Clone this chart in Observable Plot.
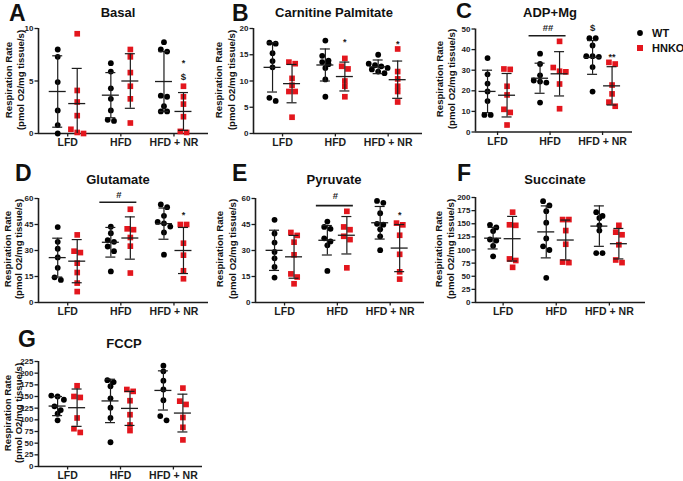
<!DOCTYPE html>
<html><head><meta charset="utf-8">
<script src="https://cdn.jsdelivr.net/npm/d3@7"></script>
<script src="https://cdn.jsdelivr.net/npm/@observablehq/plot@0.6"></script>
<style>
body{margin:0;background:#fff;}
#root{position:relative;width:683px;height:481px;overflow:hidden;background:#fff;font-family:"Liberation Sans",Arial,sans-serif;font-weight:bold;color:#111;}
.lbl{position:absolute;line-height:1;white-space:nowrap;}
.pnl{position:absolute;}
</style></head><body><div id="root"></div>
<script>
// ---------- data ----------
const groups = ["LFD", "HFD", "HFD + NR"];
const genotypes = ["WT", "HNKO"];

// A  Basal
const basalWT = [[8.0,7.3,4.9,2.2,0.8,0.0],[6.7,5.9,4.3,3.3,2.2,1.2,1.3],[8.7,8.0,7.8,3.6,3.5,2.6,2.1,2.1]];
const basalKO = [[9.5,4.1,3.0,1.7,0.4,0.1,0.0],[8.0,7.3,5.8,4.5,3.3,1.0],[4.5,3.5,2.8,1.6,0.2,0.1]];
const basalMeanWT = [4.0,3.65,4.95], basalSdWT = [3.4,2.15,2.85];
const basalMeanKO = [2.85,5.0,2.1],  basalSdKO = [3.35,2.6,1.8];
const basalNotes = [{g:2,s:1,y:6.9,t:"*"},{g:2,s:1,y:5.4,t:"$"}];
const basalLines = [];

// B  Carnitine Palmitate
const cpWT = [[17.1,17.3,15.3,13.8,12.6,6.8,6.2],[17.7,14.8,13.9,13.6,13.2,12.5,10.3,7.0],[15.0,13.3,13.0,12.8,12.5,12.2,11.8,11.5]];
const cpKO = [[13.3,13.6,10.5,9.2,8.0,8.0,3.1],[14.3,12.3,12.8,10.0,9.0,7.0],[16.1,11.8,10.4,9.0,8.0,6.0]];
const cpMeanWT = [12.6,13.05,12.7], cpSdWT = [4.7,3.05,1.3];
const cpMeanKO = [9.5,10.85,10.25], cpSdKO = [3.65,2.75,3.55];
const cpNotes = [{g:1,s:1,y:17.8,t:"*"},{g:2,s:1,y:17.5,t:"*"}];
const cpLines = [];

// C  ADP+Mg
const adpWT = [[35.9,28.0,23.5,19.7,15.0,8.3,8.3],[38.0,33.0,27.5,25.0,24.5,24.0,14.3],[45.5,45.5,42.0,36.8,36.8,36.5,31.5,19.6]];
const adpKO = [[30.4,30.6,22.2,18.0,11.0,9.5,3.4],[44.0,31.3,29.5,29.2,23.3,11.3],[33.8,33.0,22.8,18.5,14.5,12.5]];
const adpMeanWT = [19.7,26.1,36.2], adpSdWT = [10.3,7.3,8.2];
const adpMeanKO = [17.85,28.25,22.4], adpSdKO = [10.55,10.75,9.3];
const adpNotes = [{g:1,s:0,y:50.5,t:"##"},{g:2,s:-1,y:50.5,t:"$"},{g:2,s:1,y:37.6,t:"**"}];
const adpLines = [{g:1,y:46.7}];

// D  Glutamate
const gluWT = [[43.5,35.0,31.0,26.0,20.0,14.5,13.0],[43.7,40.0,36.0,35.0,32.3,29.6,17.9],[56.6,55.0,50.0,46.5,45.7,43.8,40.4,27.6]];
const gluKO = [[39.0,29.6,28.8,22.7,17.3,11.2,6.3],[53.8,42.5,42.0,37.5,32.5,17.0],[45.0,45.0,34.2,27.3,18.3,13.7]];
const gluMeanWT = [25.9,34.75,45.5], gluSdWT = [11.2,8.55,9.0];
const gluMeanKO = [23.85,37.2,30.0], gluSdKO = [12.45,12.2,13.3];
const gluNotes = [{g:1,s:0,y:62.3,t:"#"},{g:2,s:1,y:52,t:"*"}];
const gluLines = [{g:1,y:57.8}];

// E  Pyruvate
const pyrWT = [[47.7,39.8,34.6,29.2,25.5,20.5,14.4],[46.7,43.6,42.5,37.0,35.2,33.0,18.2],[58.6,57.5,51.5,45.4,44.9,42.2,38.2,30.2]];
const pyrKO = [[40.4,38.7,34.8,27.5,16.5,14.7,10.8],[52.6,43.6,42.0,38.2,36.3,20.0],[45.8,44.8,38.8,27.8,17.7,13.5]];
const pyrMeanWT = [30.1,35.9,46.0], pyrSdWT = [11.6,8.5,9.4];
const pyrMeanKO = [26.35,38.8,31.4], pyrSdKO = [12.35,10.8,13.6];
const pyrNotes = [{g:1,s:0,y:61.7,t:"#"},{g:2,s:1,y:52,t:"*"}];
const pyrLines = [{g:1,y:55.9}];

// F  Succinate
const sucWT = [[148,143,136,120,118,108,88],[193,185,174,152,122,107,100,47],[172,165,161,147,137,94,94]];
const sucKO = [[172,148,147,83,80,67],[158,158,137,111,77,76],[147,134,129,110,81,76]];
const sucMeanWT = [122.5,134.5,145.5], sucSdWT = [20.5,49.5,38.5];
const sucMeanKO = [121.5,119,112], sucSdKO = [42.5,38,29];
const sucNotes = [];
const sucLines = [];

// G  FCCP
const fccpWT = [[152,150,143,129,121,113,99],[185,181,172,146,126,104,52],[216,204,184,165,142,108,99]];
const fccpKO = [[173,148,150,104,81,73],[165,161,141,111,89,77],[168,140,133,105,84,57]];
const fccpMeanWT = [129.5,140.5,163], fccpSdWT = [20.5,46.5,42];
const fccpMeanKO = [126,124.5,114.5], fccpSdKO = [40,36.5,40.5];
const fccpNotes = [];
const fccpLines = [];

const yTitle1 = "Respiration Rate";
const yTitle2 = "(pmol O2/mg tissue/s)";

// ---------- layout ----------
const panels = [
  {L:"A", title:"Basal", wt:basalWT, ko:basalKO, mw:basalMeanWT, sw:basalSdWT, mk:basalMeanKO, sk:basalSdKO, notes:basalNotes, lines:basalLines,
   ymax:10, ticks:[0,5,10], sx:0, sy:0, fx:38, fy:28, fw:170, fh:105, xd:[-0.55,2.65], yt:[-29,-17], Lx:9, Ly:21, Ls:23, tx:118, ty:17},
  {L:"B", title:"Carnitine Palmitate", wt:cpWT, ko:cpKO, mw:cpMeanWT, sw:cpSdWT, mk:cpMeanKO, sk:cpSdKO, notes:cpNotes, lines:cpLines,
   ymax:20, ticks:[0,5,10,15,20], sx:222, sy:0, fx:253, fy:28, fw:169, fh:105, xd:[-0.55,2.65], yt:[-34,-21], Lx:232, Ly:21, Ls:23, tx:334, ty:17},
  {L:"C", title:"ADP+Mg", wt:adpWT, ko:adpKO, mw:adpMeanWT, sw:adpSdWT, mk:adpMeanKO, sk:adpSdKO, notes:adpNotes, lines:adpLines,
   ymax:50, ticks:[0,10,20,30,40,50], sx:436, sy:0, fx:475, fy:28.5, fw:157, fh:103, xd:[-0.42,2.57], yt:[-35,-23], Lx:456, Ly:19, Ls:22, tx:550, ty:17},
  {L:"D", title:"Glutamate", wt:gluWT, ko:gluKO, mw:gluMeanWT, sw:gluSdWT, mk:gluMeanKO, sk:gluSdKO, notes:gluNotes, lines:gluLines,
   ymax:60, ticks:[0,15,30,45,60], sx:0, sy:170, fx:38, fy:198, fw:170, fh:104, xd:[-0.55,2.65], yt:[-30,-19], Lx:15, Ly:181, Ls:23, tx:118, ty:184},
  {L:"E", title:"Pyruvate", wt:pyrWT, ko:pyrKO, mw:pyrMeanWT, sw:pyrSdWT, mk:pyrMeanKO, sk:pyrSdKO, notes:pyrNotes, lines:pyrLines,
   ymax:60, ticks:[0,15,30,45,60], sx:222, sy:170, fx:255, fy:198, fw:169, fh:104, xd:[-0.55,2.65], yt:[-35,-22], Lx:232, Ly:181, Ls:23, tx:334, ty:184},
  {L:"F", title:"Succinate", wt:sucWT, ko:sucKO, mw:sucMeanWT, sw:sucSdWT, mk:sucMeanKO, sk:sucSdKO, notes:sucNotes, lines:sucLines,
   ymax:200, ticks:d3.range(0,201,25), sx:436, sy:170, fx:475, fy:197, fw:170, fh:105, xd:[-0.52,2.68], yt:[-36,-24], Lx:457, Ly:181, Ls:23, tx:555, ty:184},
  {L:"G", title:"FCCP", wt:fccpWT, ko:fccpKO, mw:fccpMeanWT, sw:fccpSdWT, mk:fccpMeanKO, sk:fccpSdKO, notes:fccpNotes, lines:fccpLines,
   ymax:225, ticks:d3.range(0,226,25), sx:0, sy:335, fx:38, fy:361, fw:164, fh:105, xd:[-0.55,2.55], yt:[-30,-19], Lx:18, Ly:347, Ls:23, tx:124, ty:348}
];

const root = document.getElementById("root");
function label(text, x, base, size, anchor) {
  const d = document.createElement("div");
  d.className = "lbl";
  d.textContent = text;
  d.style.fontSize = size + "px";
  d.style.left = x + "px";
  d.style.top = (base - 0.8465 * size) + "px";
  if (anchor === "middle") d.style.transform = "translateX(-50%)";
  root.appendChild(d);
  return d;
}
function vlabel(text, cx, cy, size) {
  const d = document.createElement("div");
  d.className = "lbl";
  d.textContent = text;
  d.style.fontSize = size + "px";
  d.style.left = cx + "px";
  d.style.top = cy + "px";
  d.style.transform = "translate(-50%,-50%) rotate(-90deg)";
  root.appendChild(d);
  return d;
}

// symmetric horizontal spread of points that would overlap
function spread(vals, pxY, gap) {
  const order = d3.range(vals.length).sort((a, b) => vals[b] - vals[a]);
  const off = new Array(vals.length).fill(0);
  let cl = [];
  const flush = () => { cl.forEach((i, k) => off[i] = (k - (cl.length - 1) / 2) * gap); cl = []; };
  for (const i of order) {
    if (cl.length && (vals[cl[0]] - vals[i]) * pxY > 5) flush();
    cl.push(i);
  }
  flush();
  return off;
}

const RED = "#e3161d", INK = "#1c1c1c";

for (const p of panels) {
  const mL = p.fx - p.sx, mT = p.fy - p.sy, mR = 8, mB = 24;
  const width = mL + p.fw + mR, height = mT + p.fh + mB;
  const pxX = p.fw / (p.xd[1] - p.xd[0]);
  const pxY = p.fh / p.ymax;
  const sidePx = [-10, 9.5];
  const pts = [], stats = [];
  [p.wt, p.ko].forEach((arr, s) => {
    arr.forEach((vals, g) => {
      const offs = spread(vals, pxY, 6.3);
      vals.forEach((v, i) => pts.push({s, g, v, x: g + (sidePx[s] + offs[i]) / pxX}));
      const m = (s ? p.mk : p.mw)[g], sd = (s ? p.sk : p.sw)[g];
      stats.push({s, g, m, sd, x: g + sidePx[s] / pxX});
    });
  });
  const noteX = d => d.g + (d.s === 0 ? -2 : d.s < 0 ? sidePx[0] : sidePx[1]) / pxX;
  const svg = Plot.plot({
    width, height, marginLeft: mL, marginTop: mT, marginRight: mR, marginBottom: mB,
    style: {background: "transparent", fontFamily: "Liberation Sans, Arial, sans-serif", fontWeight: "bold", fontSize: "8px", color: INK, overflow: "visible"},
    x: {domain: p.xd},
    y: {domain: [0, p.ymax]},
    marks: [
      Plot.axisY({ticks: p.ticks, tickSize: 3.5, tickPadding: 1.5, fontSize: 8, fontWeight: "bold", label: null, strokeWidth: 1.3}),
      Plot.axisX({ticks: [0, 1, 2], tickFormat: i => groups[i], tickSize: 3.5, tickPadding: 2, fontSize: 10.5, fontWeight: "bold", label: null, strokeWidth: 1.3}),
      Plot.ruleX([p.xd[0]], {stroke: INK, strokeWidth: 1.6}),
      Plot.ruleY([0], {stroke: INK, strokeWidth: 1.6}),
      Plot.dot(pts.filter(d => d.s === 0), {x: "x", y: "v", r: 2.9, fill: "#000", stroke: "none"}),
      Plot.dot(pts.filter(d => d.s === 1), {x: "x", y: "v", r: 3.2, symbol: "square", fill: RED, stroke: "none"}),
      Plot.ruleX(stats, {x: "x", y1: d => Math.max(0, d.m - d.sd), y2: d => d.m + d.sd, stroke: INK, strokeWidth: 1.2}),
      Plot.ruleY(stats, {y: "m", x1: d => d.x - 8.5 / pxX, x2: d => d.x + 8.5 / pxX, stroke: INK, strokeWidth: 1.3}),
      Plot.ruleY(stats, {y: d => d.m + d.sd, x1: d => d.x - 5 / pxX, x2: d => d.x + 5 / pxX, stroke: INK, strokeWidth: 1.2}),
      Plot.ruleY(stats.filter(d => d.m - d.sd > 0), {y: d => d.m - d.sd, x1: d => d.x - 5 / pxX, x2: d => d.x + 5 / pxX, stroke: INK, strokeWidth: 1.2}),
      Plot.ruleY(p.lines, {y: "y", x1: d => d.g - 21 / pxX, x2: d => d.g + 16 / pxX, stroke: INK, strokeWidth: 1.6}),
      Plot.text(p.notes.filter(d => d.t.includes("*")), {x: noteX, y: "y", text: "t", fontSize: 9, dy: 2.5, fill: INK}),
      Plot.text(p.notes.filter(d => !d.t.includes("*")), {x: noteX, y: "y", text: "t", fontSize: 9.5, fill: INK})
    ]
  });
  svg.classList.add("pnl");
  svg.style.left = p.sx + "px";
  svg.style.top = p.sy + "px";
  root.appendChild(svg);
  label(p.L, p.Lx, p.Ly, p.Ls, "start");
  label(p.title, p.tx, p.ty, 13, "middle");
  const cy = p.fy + p.fh / 2 - 1;
  vlabel(yTitle1, p.fx + p.yt[0], cy, 9.6);
  vlabel(yTitle2, p.fx + p.yt[1], cy, 9.6);
}

// legend
const leg = d3.create("svg").attr("width", 14).attr("height", 28)
  .style("position", "absolute").style("left", "633px").style("top", "26px");
leg.append("circle").attr("cx", 7).attr("cy", 7).attr("r", 2.9).attr("fill", "#000");
leg.append("rect").attr("x", 4).attr("y", 19).attr("width", 6).attr("height", 6).attr("fill", RED);
root.appendChild(leg.node());
label(genotypes[0], 652, 37, 11, "start");
label(genotypes[1], 652, 52, 11, "start");
</script></body></html>
